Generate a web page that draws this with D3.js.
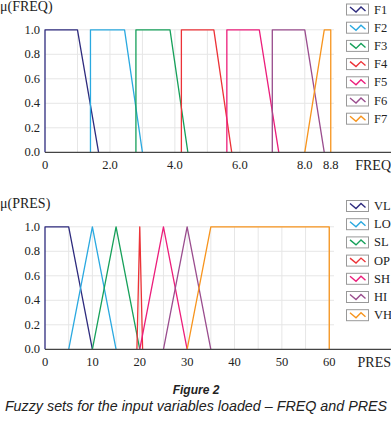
<!DOCTYPE html>
<html>
<head>
<meta charset="utf-8">
<script src="https://cdn.jsdelivr.net/npm/d3@7"></script>
<style>
  body { margin: 0; background: #fff; }
  svg { display: block; }
  .serif { font-family: "Liberation Serif", "Times New Roman", serif; }
  .sans { font-family: "Liberation Sans", Arial, sans-serif; }
</style>
</head>
<body>
<div id="chart"></div>
<script>
// membership functions, each one a trapezoid [a, b, c, d] with mu 0,1,1,0
const freqNames = ["F1", "F2", "F3", "F4", "F5", "F6", "F7"];
const freqSets = [
    [0, 0, 1.0, 1.65],
    [1.4, 1.4, 2.45, 3.0],
    [2.8, 2.8, 3.85, 4.4],
    [4.2, 4.2, 5.2, 5.75],
    [5.6, 5.6, 6.6, 7.2],
    [7.0, 7.0, 8.0, 8.6],
    [8.0, 8.6, 8.8, 8.8]
];
const freqTicks = [0, 2, 4, 6, 8, 8.8];

const presNames = ["VL", "LO", "SL", "OP", "SH", "HI", "VH"];
const presSets = [
    [0, 0, 5, 10],
    [5, 10, 10, 15],
    [10, 15, 15, 20],
    [19.4, 20, 20, 20.6],
    [20, 25, 25, 30],
    [25, 30, 30, 35],
    [30, 35, 60, 60]
];
const presTicks = [0, 10, 20, 30, 40, 50, 60];

const muLevels = [0, 1, 1, 0];
const muTicks = [0, 0.2, 0.4, 0.6, 0.8, 1.0];

const colors = ["#2e2b7e", "#2aa9e0", "#16a05a", "#ec3237", "#ec1e7b", "#9a4d8e", "#f7941d"];

const W = 391, H = 421;
const svg = d3.select("#chart").append("svg")
    .attr("width", W)
    .attr("height", H);

function panel(opts) {
    const x = d3.scaleLinear().domain([0, opts.xMax]).range([45, 334]);
    const y = d3.scaleLinear().domain([0, 1]).range([opts.y0, opts.y0 - 122.5]);
    const g = svg.append("g");

    // grid
    g.selectAll(".vgrid")
        .data(opts.grid)
        .enter()
        .append("line")
        .attr("x1", d => x(d)).attr("x2", d => x(d))
        .attr("y1", y(0)).attr("y2", y(1))
        .attr("stroke", "#e6e6e6");
    g.selectAll(".hgrid")
        .data(muTicks.slice(1))
        .enter()
        .append("line")
        .attr("x1", x(0)).attr("x2", x(opts.xMax))
        .attr("y1", d => y(d)).attr("y2", d => y(d))
        .attr("stroke", "#e6e6e6");

    // y tick labels
    g.selectAll(".ylab")
        .data(muTicks)
        .enter()
        .append("text")
        .attr("class", "serif")
        .attr("x", 40)
        .attr("y", d => y(d) + 4)
        .attr("text-anchor", "end")
        .attr("font-size", 12.5)
        .attr("fill", "#222")
        .text(d => d3.format(".1f")(d));

    // x tick labels
    g.selectAll(".xlab")
        .data(opts.ticks)
        .enter()
        .append("text")
        .attr("class", "serif")
        .attr("x", d => x(d))
        .attr("y", y(0) + 17)
        .attr("text-anchor", "middle")
        .attr("font-size", 12.5)
        .attr("fill", "#222")
        .text(opts.fmt);

    // axis titles
    g.append("text")
        .attr("class", "serif")
        .attr("x", 0)
        .attr("y", opts.y0 - 141)
        .attr("font-size", 14)
        .attr("fill", "#222")
        .text(opts.yTitle);
    g.append("text")
        .attr("class", "serif")
        .attr("x", 391)
        .attr("y", y(0) + 18)
        .attr("text-anchor", "end")
        .attr("font-size", 14)
        .attr("fill", "#222")
        .text(opts.xTitle);

    // membership lines
    const line = d3.line().x(d => x(d[0])).y(d => y(d[1]));
    g.selectAll(".mf")
        .data(opts.sets)
        .enter()
        .append("path")
        .attr("d", s => line(s.map((v, i) => [v, muLevels[i]])))
        .attr("fill", "none")
        .attr("stroke", (d, i) => colors[i])
        .attr("stroke-width", 1.3)
        .attr("stroke-linejoin", "round");

    // baseline
    g.append("line")
        .attr("x1", x(0)).attr("x2", W)
        .attr("y1", y(0)).attr("y2", y(0))
        .attr("stroke", "#444")
        .attr("stroke-width", 1.2);

    // legend
    const leg = g.selectAll(".leg")
        .data(opts.names)
        .enter()
        .append("g")
        .attr("transform", (d, i) => `translate(346,${opts.legTop + i * 18.2})`);
    leg.append("rect")
        .attr("x", 0.5).attr("y", 0.5)
        .attr("width", 22).attr("height", 11)
        .attr("fill", "#fff")
        .attr("stroke", "#999");
    leg.append("polyline")
        .attr("points", "4,3.5 10,8.5 15,3.5 19.5,7.5")
        .attr("fill", "none")
        .attr("stroke", (d, i) => colors[i])
        .attr("stroke-width", 1.4);
    leg.append("text")
        .attr("class", "serif")
        .attr("x", 28)
        .attr("y", 10)
        .attr("font-size", 12.5)
        .attr("fill", "#222")
        .text(d => d);
}

panel({
    xMax: 8.9, y0: 152.3, sets: freqSets, names: freqNames, ticks: freqTicks,
    grid: d3.range(1, 9), fmt: d => d === 0 ? "0" : d3.format(".1f")(d),
    yTitle: "\u03bc(FREQ)", xTitle: "FREQ", legTop: 3.5
});

panel({
    xMax: 61, y0: 349.3, sets: presSets, names: presNames, ticks: presTicks,
    grid: d3.range(5, 61, 5), fmt: d => String(d),
    yTitle: "\u03bc(PRES)", xTitle: "PRES", legTop: 200
});

// caption
svg.append("text")
    .attr("class", "sans")
    .attr("x", 196)
    .attr("y", 394)
    .attr("text-anchor", "middle")
    .attr("font-style", "italic")
    .attr("font-weight", "bold")
    .attr("font-size", 12)
    .attr("fill", "#222")
    .text("Figure 2");
svg.append("text")
    .attr("class", "sans")
    .attr("x", 196)
    .attr("y", 410.5)
    .attr("text-anchor", "middle")
    .attr("font-style", "italic")
    .attr("font-size", 14.3)
    .attr("fill", "#222")
    .text("Fuzzy sets for the input variables loaded \u2013 FREQ and PRES");
</script>
</body>
</html>
